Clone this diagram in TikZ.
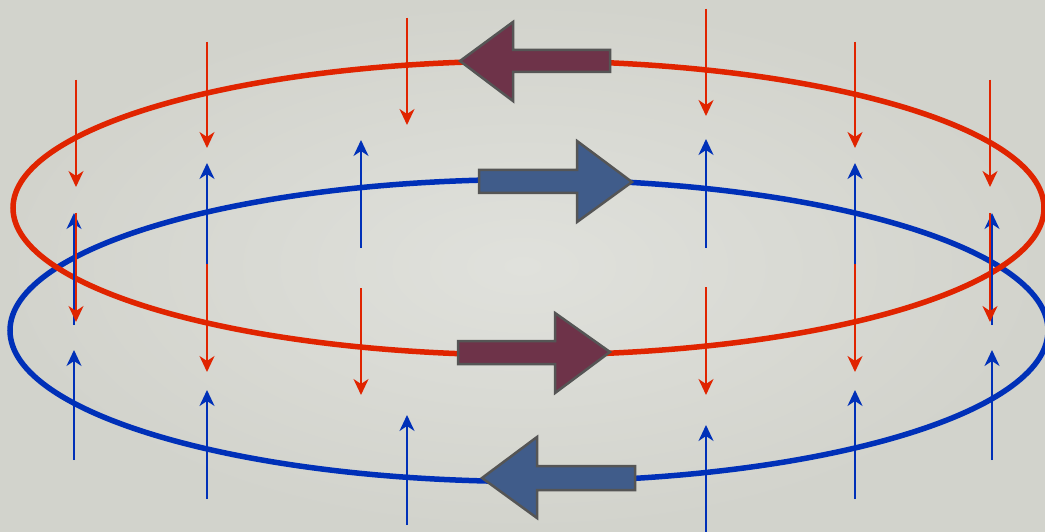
\documentclass[tikz,border=0pt]{standalone}
\usepackage{tikz}
\usetikzlibrary{arrows.meta}
\definecolor{bgin}{RGB}{224,225,220}
\definecolor{bgout}{RGB}{210,211,204}
\definecolor{loopred}{RGB}{224,36,0}
\definecolor{loopblue}{RGB}{0,48,184}
\definecolor{maroonfill}{RGB}{110,51,73}
\definecolor{steelfill}{RGB}{64,92,138}
\definecolor{edgegray}{RGB}{85,85,85}
\tikzset{
  redloop/.style={draw=loopred, line width=5.5pt},
  blueloop/.style={draw=loopblue, line width=5.5pt},
  redfield/.style={-{Stealth[length=16pt, width=15pt, inset=5pt]}, draw=loopred, fill=loopred, line width=2.3pt},
  bluefield/.style={-{Stealth[length=16pt, width=15pt, inset=5pt]}, draw=loopblue, fill=loopblue, line width=2.3pt},
  maroonblock/.style={draw=edgegray, line width=2.5pt, fill=maroonfill, line join=miter},
  steelblock/.style={draw=edgegray, line width=2.5pt, fill=steelfill, line join=miter}
}

\begin{document}
\begin{tikzpicture}[x=1pt, y=-1pt]
  \useasboundingbox (0,0) rectangle (1045,532);
  \shade[inner color=bgin, outer color=bgout] (0,0) rectangle (1045,532);
  % the two current loops
  \coordinate (rc) at (528.5,208);
  \coordinate (bc) at (529,330.5);
  \draw[blueloop] (bc) ellipse [x radius=519, y radius=151];
  \draw[redloop] (rc) ellipse [x radius=515.5, y radius=147];
  % field of the blue loop (up)
  \foreach \x/\a/\b in {74/325/213, 207/273/163, 361/248/140, 706/248/139, 855/273/163, 992/325/213,
                        74/460/350, 207/499/390, 407/525/415, 706/535/425, 855/499/390, 992/460/350} {
    \coordinate (bt) at (\x,\a);
    \coordinate (bh) at (\x,\b);
    \draw[bluefield] (bt) -- (bh);
  }
  % field of the red loop (down)
  \foreach \x/\a/\b in {76/80/187, 207/42/148, 407/18/125, 706/9/116, 855/42/148, 990/80/187,
                        76/213/322, 207/264/372, 361/288/395, 706/287/395, 855/264/372, 990/213/322} {
    \coordinate (rt) at (\x,\a);
    \coordinate (rh) at (\x,\b);
    \draw[redfield] (rt) -- (rh);
  }
  % current directions
  \draw[maroonblock] (460,61) -- (513,22) -- (513,50) -- (610,50) -- (610,72) -- (513,72) -- (513,101) -- cycle;
  \draw[steelblock] (632,182) -- (577,141) -- (577,170) -- (479,170) -- (479,193) -- (577,193) -- (577,222) -- cycle;
  \draw[maroonblock] (610,352) -- (555,313) -- (555,341) -- (458,341) -- (458,364) -- (555,364) -- (555,393) -- cycle;
  \draw[steelblock] (482,478) -- (537,437) -- (537,466) -- (635,466) -- (635,490) -- (537,490) -- (537,518) -- cycle;
\end{tikzpicture}
\end{document}
